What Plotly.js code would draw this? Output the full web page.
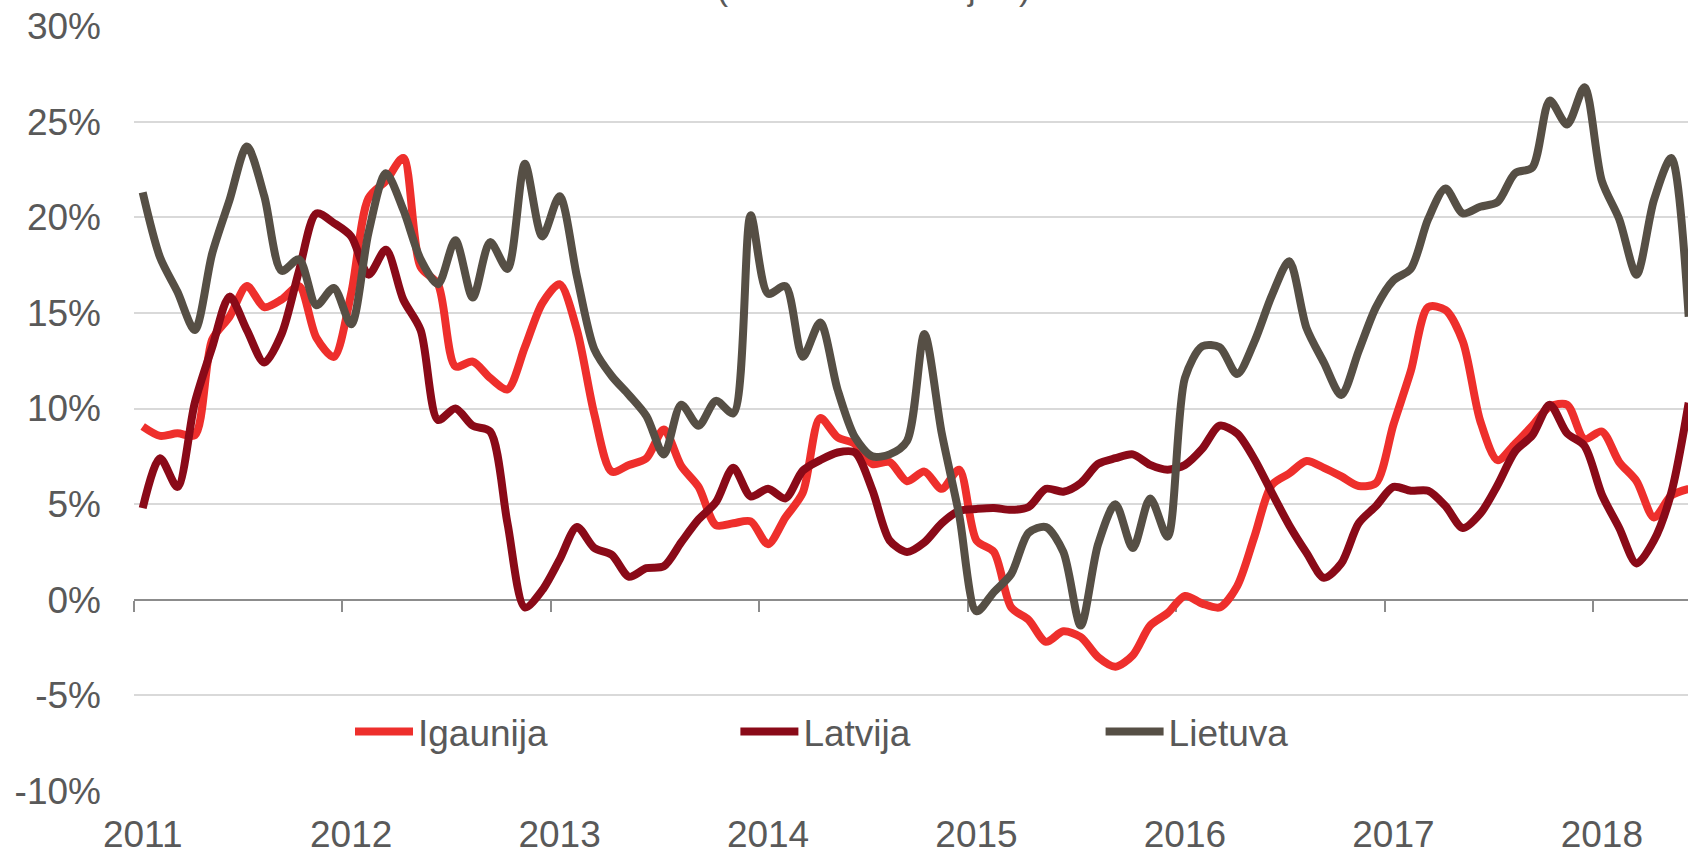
<!DOCTYPE html>
<html>
<head>
<meta charset="utf-8">
<script src="https://cdn.plot.ly/plotly-3.0.1.min.js"></script>
<style>
html, body { margin: 0; padding: 0; background: #ffffff; }
#chart { width: 1688px; height: 852px; }
</style>
</head>
<body>
<div id="chart"></div>
<script>
// Tick labels (years) and y-axis labels
const years = ['2011', '2012', '2013', '2014', '2015', '2016', '2017', '2018'];
const yTickVals = [-10, -5, 0, 5, 10, 15, 20, 25, 30];
const yTickText = ['-10%', '-5%', '0%', '5%', '10%', '15%', '20%', '25%', '30%'];

// Monthly values from January 2011 (%, annual change)
const igaunija = [
  9.06, 8.57, 8.7, 8.6, 13.6, 14.8, 16.4, 15.3, 15.7, 16.4, 13.7, 12.7,
  16.0, 21.0, 21.9, 23.1, 17.4, 16.5, 12.2, 12.45, 11.6, 11.0, 13.2, 15.5,
  16.5, 14.1, 9.7, 6.7, 7.05, 7.4, 8.9, 7.0, 5.9, 3.9, 4.0, 4.1,
  2.9, 4.3, 5.6, 9.5, 8.5, 8.15, 7.1, 7.2, 6.2, 6.7, 5.8, 6.8,
  3.1, 2.5, -0.4, -1.05, -2.2, -1.65, -1.95, -3.0, -3.5, -2.9, -1.35, -0.7,
  0.2, -0.2, -0.4, 0.7, 3.3, 6.0, 6.6, 7.25, 6.9, 6.45, 5.95, 6.1,
  9.15, 11.95, 15.3, 15.15, 13.5, 9.35, 7.3, 8.15, 9.1, 10.1, 10.2, 8.4,
  8.8, 7.2, 6.2, 4.3, 5.45, 5.8
];
const latvija = [
  4.79, 7.4, 5.9, 10.3, 13.2, 15.85, 14.1, 12.4, 13.9, 17.2, 20.2, 19.7,
  19.0, 17.0, 18.3, 15.7, 14.1, 9.4, 10.0, 9.1, 8.8, 4.0, -0.4, 0.5,
  2.1, 3.8, 2.7, 2.35, 1.2, 1.65, 1.75, 3.0, 4.2, 5.1, 6.9, 5.4,
  5.8, 5.3, 6.75, 7.3, 7.7, 7.7, 5.75, 3.1, 2.5, 3.0, 4.0, 4.65,
  4.75, 4.8, 4.7, 4.85, 5.8, 5.65, 6.1, 7.1, 7.4, 7.6, 7.05, 6.8,
  7.05, 7.9, 9.1, 8.7, 7.35, 5.6, 3.9, 2.45, 1.15, 1.9, 4.0, 4.9,
  5.9, 5.7, 5.7, 4.9, 3.75, 4.5, 6.0, 7.75, 8.6, 10.2, 8.7, 8.05,
  5.5, 3.75, 1.9, 3.1, 5.6, 10.3
];
const lietuva = [
  21.3, 17.9, 16.1, 14.1, 18.1, 20.9, 23.7, 21.1, 17.2, 17.8, 15.4, 16.3,
  14.4, 19.2, 22.3, 20.4, 17.8, 16.5, 18.8, 15.8, 18.7, 17.3, 22.8, 19.0,
  21.1, 16.9, 13.1, 11.7, 10.7, 9.6, 7.6, 10.2, 9.1, 10.4, 9.75, 20.1,
  16.0, 16.4, 12.7, 14.5, 11.0, 8.5, 7.5, 7.6, 8.3, 13.9, 8.7, 4.45,
  -0.6, 0.4, 1.35, 3.5, 3.8, 2.5, -1.35, 2.9, 5.0, 2.7, 5.3, 3.3,
  11.6, 13.25, 13.2, 11.8, 13.5, 15.9, 17.7, 14.2, 12.4, 10.7, 13.0, 15.3,
  16.7, 17.3, 19.9, 21.5, 20.2, 20.55, 20.8, 22.3, 22.6, 26.1, 24.85, 26.8,
  21.9, 19.9, 17.0, 20.9, 23.1, 14.8
];

// month index positions (0 = January 2011)
const monthIndex = igaunija.map((_, i) => i);
const yearLabelPos = years.map((_, k) => k * 12);
const yearBoundaryPos = years.map((_, k) => k * 12 - 0.5);

const FONT = 'Liberation Sans, Arial, Helvetica, sans-serif';
const TEXT = '#595959';
const XRANGE = [-0.5, 88.96];

function series(name, y, color, legendId, xaxisId) {
  return {
    type: 'scatter', mode: 'lines', name: name,
    x: monthIndex, y: y, xaxis: xaxisId, yaxis: 'y',
    line: { color: color, width: 8, shape: 'spline', smoothing: 0.8 },
    legend: legendId, hoverinfo: 'skip'
  };
}

const data = [
  series('Igaunija', igaunija, '#EE2F2C', 'legend', 'x'),
  series('Latvija', latvija, '#8A0A18', 'legend2', 'x'),
  series('Lietuva', lietuva, '#564F45', 'legend3', 'x2')
];

function legendAt(x) {
  return {
    x: x, y: 0.0771, xanchor: 'left', yanchor: 'middle',
    orientation: 'h', bgcolor: 'rgba(0,0,0,0)', borderwidth: 0,
    font: { family: FONT, size: 37, color: TEXT },
    itemwidth: 58
  };
}

const layout = {
  width: 1688, height: 852,
  margin: { l: 133.6, r: 0, t: 25.7, b: 61.3, pad: 0 },
  paper_bgcolor: '#ffffff', plot_bgcolor: '#ffffff',
  font: { family: FONT, color: TEXT, size: 37 },
  title: {
    text: '(12 mēnešu vidējais)',
    font: { family: FONT, size: 34, color: TEXT },
    x: 0.5175, xanchor: 'center', xref: 'container',
    y: 0.9995, yanchor: 'bottom', yref: 'container'
  },
  showlegend: true,
  legend: legendAt(0.139),
  legend2: legendAt(0.387),
  legend3: legendAt(0.622),
  // axis line at 0% with year boundary tick marks
  xaxis: {
    anchor: 'free', position: 0.25, side: 'bottom',
    range: XRANGE,
    tickmode: 'array', tickvals: yearBoundaryPos,
    showticklabels: false, ticks: 'outside', ticklen: 11, tickwidth: 2, tickcolor: '#8C8C8C',
    showline: true, linecolor: '#8C8C8C', linewidth: 2,
    showgrid: false, zeroline: false, layer: 'below traces',
    fixedrange: true
  },
  // year labels at the bottom of the plot
  xaxis2: {
    overlaying: 'x', anchor: 'y', side: 'bottom',
    range: XRANGE,
    tickmode: 'array', tickvals: yearLabelPos, ticktext: years,
    ticks: '', showline: false, showgrid: false, zeroline: false,
    tickfont: { family: FONT, size: 37, color: TEXT },
    ticklabelstandoff: 18,
    fixedrange: true
  },
  yaxis: {
    range: [-10, 30],
    tickmode: 'array', tickvals: yTickVals, ticktext: yTickText,
    ticks: '', showline: false, zeroline: false,
    showgrid: true, gridcolor: '#D9D9D9', gridwidth: 2,
    tickfont: { family: FONT, size: 37, color: TEXT },
    ticklabelstandoff: 32,
    fixedrange: true
  }
};

Plotly.newPlot('chart', data, layout, { displayModeBar: false, staticPlot: true });
</script>
</body>
</html>
